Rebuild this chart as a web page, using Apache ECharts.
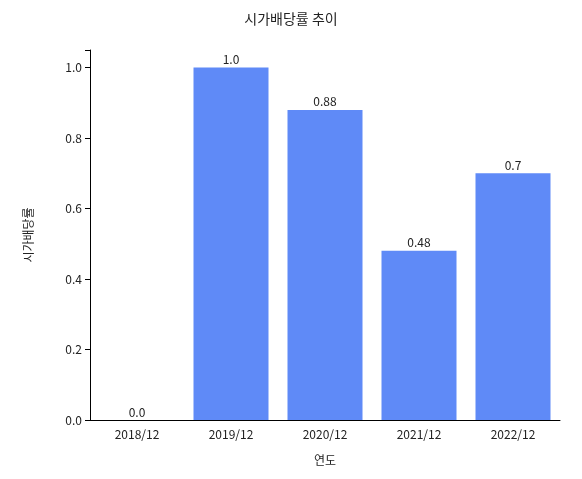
<!DOCTYPE html>
<html><head><meta charset="utf-8">
<script src="https://cdn.jsdelivr.net/npm/echarts@6/dist/echarts.min.js"></script>
<style>html,body{margin:0;background:#fff}#c{width:582px;height:479px}</style>
</head><body><div id="c"></div>
<script>
const years = ['2018/12', '2019/12', '2020/12', '2021/12', '2022/12'];
const yields = [0.0, 1.0, 0.88, 0.48, 0.7];
const yieldLabels = ['0.0', '1.0', '0.88', '0.48', '0.7'];

const font = '"Noto Sans CJK KR", "Noto Sans", sans-serif';
const chart = echarts.init(document.getElementById('c'));
chart.setOption({
  animation: false,
  textStyle: { fontFamily: font },
  title: { text: '시가배당률 추이', left: 'center', top: 7,
    textStyle: { fontSize: 14, fontWeight: 'normal', color: '#222', fontFamily: font } },
  grid: { left: 90, right: 22, top: 50, bottom: 59 },
  xAxis: {
    type: 'category', data: years,
    name: '연도', nameLocation: 'middle', nameGap: 34,
    nameTextStyle: { fontSize: 12, color: '#222' },
    axisLine: { lineStyle: { color: '#000' } },
    axisTick: { alignWithLabel: true, lineStyle: { color: '#000' } },
    axisLabel: { fontSize: 12, color: '#222', margin: 8 }
  },
  yAxis: {
    type: 'value', min: 0, max: 1.05, interval: 0.2,
    name: '시가배당률', nameLocation: 'middle', nameGap: 56, nameRotate: 90,
    nameTextStyle: { fontSize: 12, color: '#222' },
    axisLine: { show: true, lineStyle: { color: '#000' } },
    axisTick: { show: true, lineStyle: { color: '#000' } },
    splitLine: { show: false },
    axisLabel: { fontSize: 12, color: '#222', formatter: v => v > 1.01 ? '' : v.toFixed(1) }
  },
  series: [{
    type: 'bar', barWidth: 75,
    data: yields,
    itemStyle: { color: '#5f8af7' },
    label: { show: true, position: 'top', distance: 2, fontSize: 12, color: '#222',
      formatter: p => yieldLabels[p.dataIndex] }
  }]
});
</script></body></html>
